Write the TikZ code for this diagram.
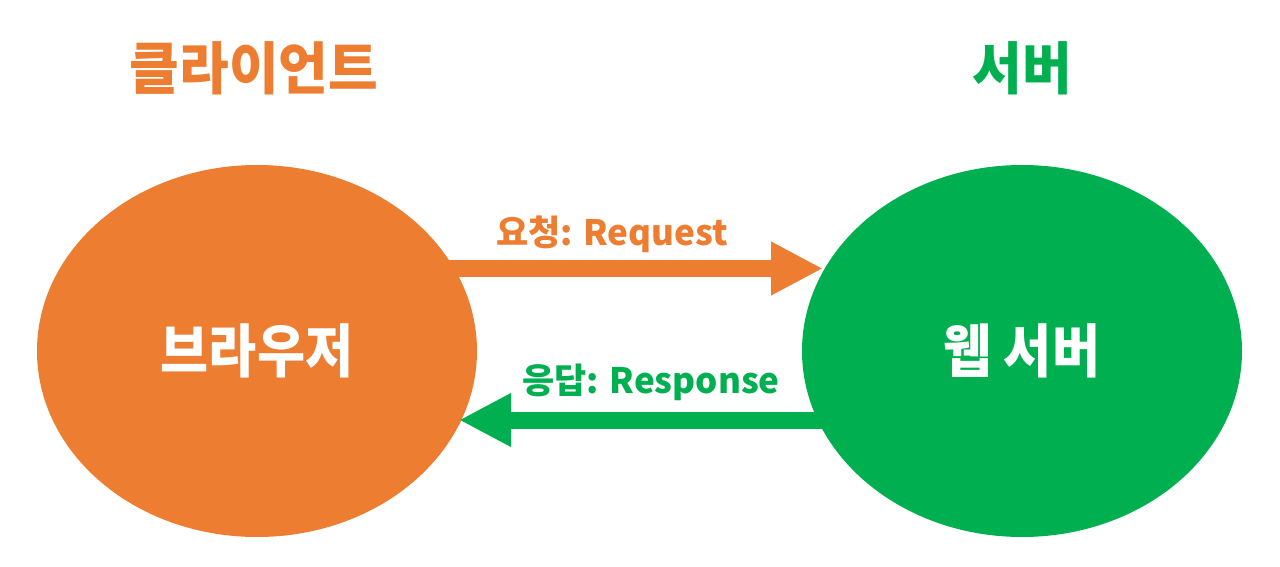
\documentclass[tikz,border=0pt]{standalone}
\usepackage{fontspec}
\setmainfont{Noto Sans CJK KR}
\usetikzlibrary{shapes.geometric,arrows.meta}
\definecolor{cOrange}{HTML}{ED7D31}
\definecolor{cGreen}{HTML}{00B050}
\tikzset{
  blob/.style={ellipse, minimum width=440pt, minimum height=372pt, inner sep=0pt, text=white,
    font=\fontsize{55}{66}\selectfont\bfseries},
  title/.style={inner sep=0pt, font=\fontsize{54}{64}\selectfont\bfseries},
  lbl/.style={inner sep=0pt, font=\fontsize{35}{42}\selectfont\bfseries},
  fat/.style={line width=17pt, -{Triangle[width=50pt,length=52pt]}},
}
\begin{document}
\begin{tikzpicture}[x=1pt,y=-1pt]
\useasboundingbox[fill=white] (0,0) rectangle (1280,567);
\node[blob, fill=cOrange] (browser) at (257,351) {\scalebox{0.95}[1.05]{브라우저}};
\node[blob, fill=cGreen] (server) at (1022,351) {\scalebox{0.95}[1.05]{웹 서버}};
\node[title, text=cOrange] (client) at (254,68) {\scalebox{1}[1.05]{클라이언트}};
\node[title, text=cGreen] (srvtitle) at (1022,68) {\scalebox{1}[1.05]{서버}};
\coordinate (reqA) at (440,268.5);
\coordinate (reqB) at (823,268.5);
\coordinate (resA) at (830,420);
\coordinate (resB) at (459,420);
\draw[fat, cOrange] (reqA) -- (reqB);
\draw[fat, cGreen] (resA) -- (resB);
\node[lbl, text=cOrange] (req) at (612,234) {요청: Request};
\node[lbl, text=cGreen] (res) at (651,382) {응답: Response};
\end{tikzpicture}
\end{document}
